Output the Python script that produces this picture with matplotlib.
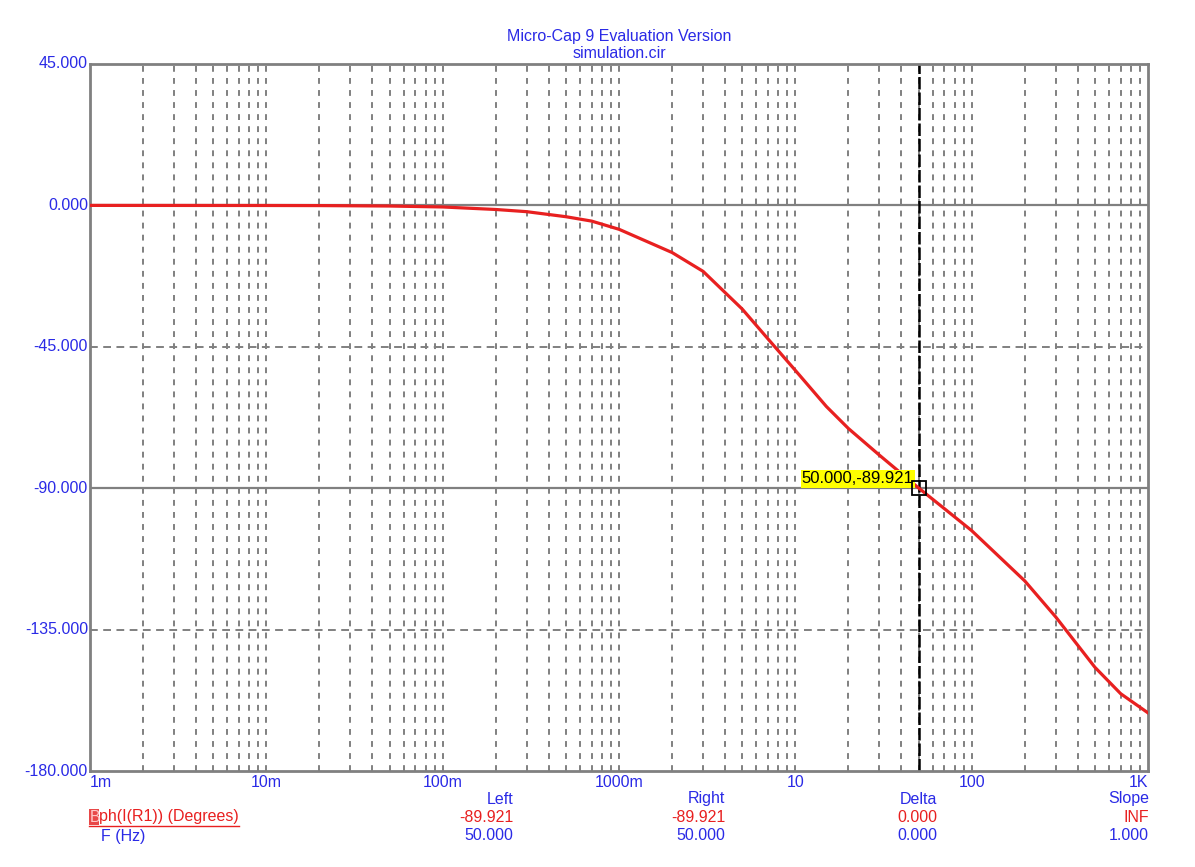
import matplotlib
matplotlib.use("Agg")
import matplotlib.pyplot as plt
import numpy as np
from matplotlib.lines import Line2D
from matplotlib.patches import Rectangle

# ---- data ----
freq = [0.001, 0.01, 0.02, 0.05, 0.1, 0.2, 0.3, 0.5, 0.7, 1, 2, 3, 5, 7, 10,
        15, 20, 30, 50, 70, 100, 200, 300, 500, 700, 1000]
phase = [0.0, -0.03, -0.06, -0.2, -0.5, -1.3, -2.0, -3.6, -5.0, -7.6, -15.0,
         -21.0, -33.0, -42.5, -52.5, -64.0, -71.0, -79.5, -89.921, -96.5,
         -103.5, -119.5, -131.0, -147.0, -155.4, -161.5]
x_ticks = [0.001, 0.01, 0.1, 1, 10, 100, 1000]
x_labels = ["1m", "10m", "100m", "1000m", "10", "100", "1K"]
y_ticks = [45, 0, -45, -90, -135, -180]
y_labels = ["45.000", "0.000", "-45.000", "-90.000", "-135.000", "-180.000"]
cursor_f = 50.0
cursor_v = -89.921
col_headers = ["Left", "Right", "Delta", "Slope"]
row_red = ["-89.921", "-89.921", "0.000", "INF"]
row_blue = ["50.000", "50.000", "0.000", "1.000"]

BLUE = "#2a2ae6"
RED = "#e82020"
GRAY = "#808080"
FONT = "Liberation Sans"
FS = 11.5

W, H = 1195, 867
fig = plt.figure(figsize=(W / 100, H / 100), dpi=100)
L, R, T, B = 90, 1148, 64, 771
ax = fig.add_axes([L / W, 1 - B / H, (R - L) / W, (B - T) / H])
ax.set_xscale("log")
ax.set_xlim(0.001, 1000)
ax.set_ylim(-180, 45)

for s in ax.spines.values():
    s.set_color(GRAY)
    s.set_linewidth(2)

# vertical grid (dashed) at 2..10 of each decade
for dec in range(-3, 3):
    for m in range(2, 11):
        f = m * 10.0 ** dec
        if f >= 1000:
            continue
        ax.axvline(f, color=GRAY, lw=1.4, ls=(0, (3.0, 3.2)), zorder=1)
# horizontal grid
for yv in [0, -90]:
    ax.axhline(yv, color=GRAY, lw=1.6, zorder=1)
for yv in [-45, -135]:
    ax.axhline(yv, color=GRAY, lw=1.4, ls=(0, (4.0, 2.8)), zorder=1)

ax.plot(freq, phase, color=RED, lw=2.3, zorder=3)

# cursor
ax.axvline(cursor_f, color="black", lw=1.8, ls=(0, (5, 1.2)), zorder=2)
ax.plot([cursor_f], [cursor_v], marker="s", ms=9.5, mfc="none", mec="black",
        mew=1.3, zorder=5)
ax.annotate("50.000,-89.921", xy=(cursor_f, cursor_v), xytext=(-3.5, 6.5),
            textcoords="offset points", ha="right", va="center",
            fontsize=12.0, family=FONT, color="black",
            bbox=dict(boxstyle="square,pad=0.08", fc="#ffff00", ec="none"),
            zorder=4)

ax.set_xticks(x_ticks)
ax.set_xticklabels([])
ax.set_yticks(y_ticks)
ax.set_yticklabels([])
ax.minorticks_off()
ax.tick_params(length=0)

# tick labels placed as text
for f, lab in zip(x_ticks, x_labels):
    ha = "center"
    if f == x_ticks[0]:
        ha = "left"
    elif f == x_ticks[-1]:
        ha = "right"
    ax.text(f, -0.005, lab, transform=ax.get_xaxis_transform(), ha=ha, va="top",
            fontsize=FS, family=FONT, color=BLUE)
for yv, lab in zip(y_ticks, y_labels):
    ax.text(-0.002, yv, lab, transform=ax.get_yaxis_transform(), ha="right",
            va="center", fontsize=FS, family=FONT, color=BLUE)

def ft(x, y, s, **kw):
    kw.setdefault("fontsize", FS)
    kw.setdefault("family", FONT)
    fig.text(x / W, 1 - y / H, s, va="center", **kw)

ft(619, 37, "Micro-Cap 9 Evaluation Version", ha="center", color=BLUE)
ft(619, 53, "simulation.cir", ha="center", color=BLUE)

# bottom readout
col_x = [513, 725, 937, 1149]
for cx, h, r, b in zip(col_x, col_headers, row_red, row_blue):
    ft(cx, 799, h, ha="right", color=BLUE)
    ft(cx, 817, r, ha="right", color=RED)
    ft(cx, 836, b, ha="right", color=BLUE)

fig.patches.append(Rectangle((89 / W, 1 - 825 / H), 10 / W, 16 / H,
                             transform=fig.transFigure, fc="#e84848",
                             ec="none"))
ft(89.5, 817, "B", ha="left", color="#ffc8c8")
ft(99, 817, "ph(I(R1)) (Degrees)", ha="left", color=RED)
fig.lines.append(Line2D([89 / W, 239 / W], [1 - 825.5 / H, 1 - 825.5 / H],
                        transform=fig.transFigure, color=RED, lw=1.0))
ft(101, 836, "F (Hz)", ha="left", color=BLUE)

fig.savefig("out.png", dpi=100, facecolor="white")
